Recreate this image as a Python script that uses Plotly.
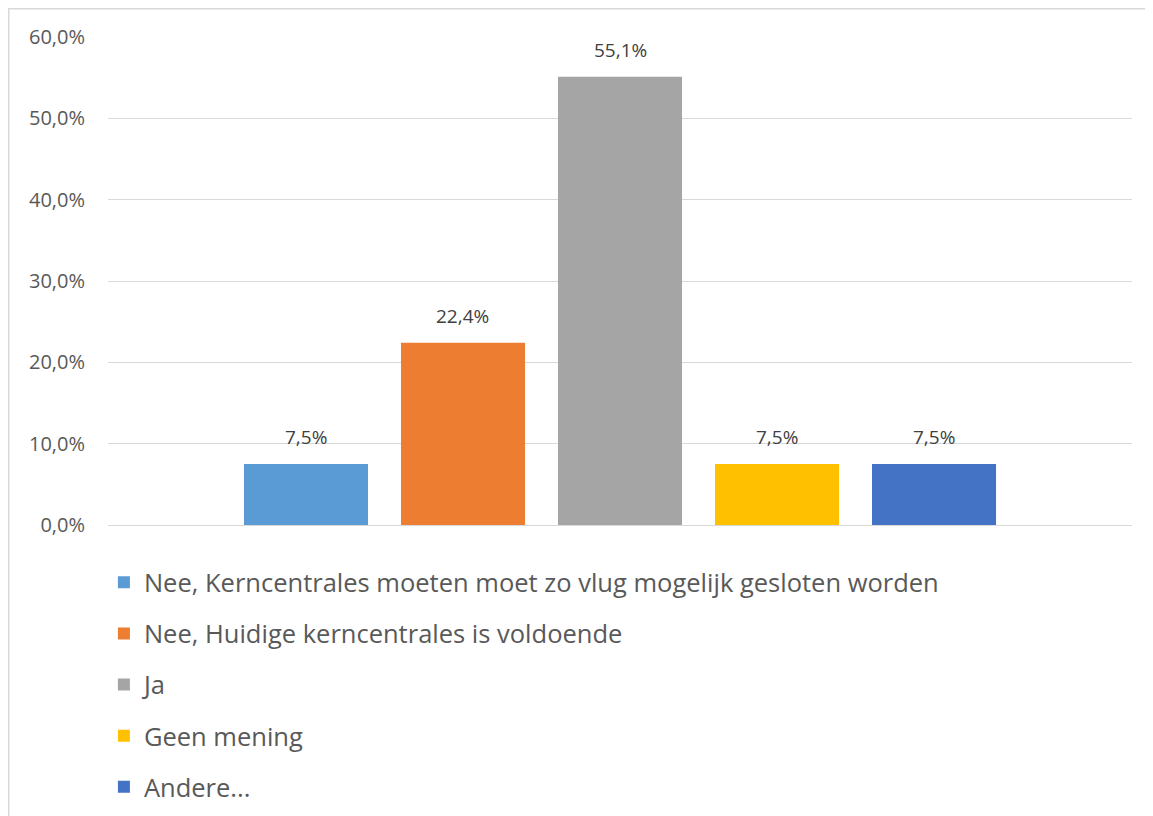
import plotly.graph_objects as go

# antwoorden en percentages
answers = [
    "Nee, Kerncentrales moeten moet zo vlug mogelijk gesloten worden",
    "Nee, Huidige kerncentrales is voldoende",
    "Ja",
    "Geen mening",
    "Andere...",
]
shares = [0.075, 0.224, 0.551, 0.075, 0.075]
colors = ["#5b9bd5", "#ed7d31", "#a5a5a5", "#ffc000", "#4472c4"]
y_ticks = [0, 0.1, 0.2, 0.3, 0.4, 0.5, 0.6]

fig = go.Figure()
for i, (name, val, col) in enumerate(zip(answers, shares, colors)):
    fig.add_trace(go.Bar(
        x=[name], y=[val], name=name,
        marker=dict(color=col, line=dict(width=0)),
        legendgroup=str(i), hoverinfo="y",
    ))
    # datalabel boven de staaf
    fig.add_annotation(x=name, y=val, text=f"{val * 100:.1f}%".replace(".", ","),
                       showarrow=False, yanchor="bottom", yshift=12,
                       font=dict(size=19, color="#404040"))

# rand rond de grafiek (zoals in Excel)
fig.add_shape(type="rect", xref="paper", yref="paper",
              x0=-0.0969, x1=1.2, y0=-1.0, y1=1.0579,
              line=dict(color="#d9d9d9", width=1.5), fillcolor="rgba(0,0,0,0)", layer="below")

fig.update_layout(
    width=1153, height=816,
    margin=dict(l=100, r=29, t=29, b=299, autoexpand=False),
    paper_bgcolor="white", plot_bgcolor="white",
    font=dict(family="Open Sans, Noto Sans, sans-serif", color="#595959"),
    separators=", ",
    barmode="overlay", bargap=0.21,
    showlegend=True,
    legend=dict(orientation="v", x=-0.004, xanchor="left", y=-0.07, yanchor="top",
                font=dict(size=25.5, color="#595959"), tracegroupgap=15,
                itemsizing="constant"),
    xaxis=dict(showticklabels=False, showgrid=False, showline=False, zeroline=False,
               range=[-1.261, 5.261]),
    yaxis=dict(range=[0, 0.6], tickvals=y_ticks, tickformat=".1%",
               tickfont=dict(size=20, color="#595959"),
               gridcolor="#d9d9d9", gridwidth=1, zeroline=True, zerolinecolor="#d9d9d9",
               zerolinewidth=1, showline=False, ticklabelstandoff=22),
)

fig.write_html("out.html")
